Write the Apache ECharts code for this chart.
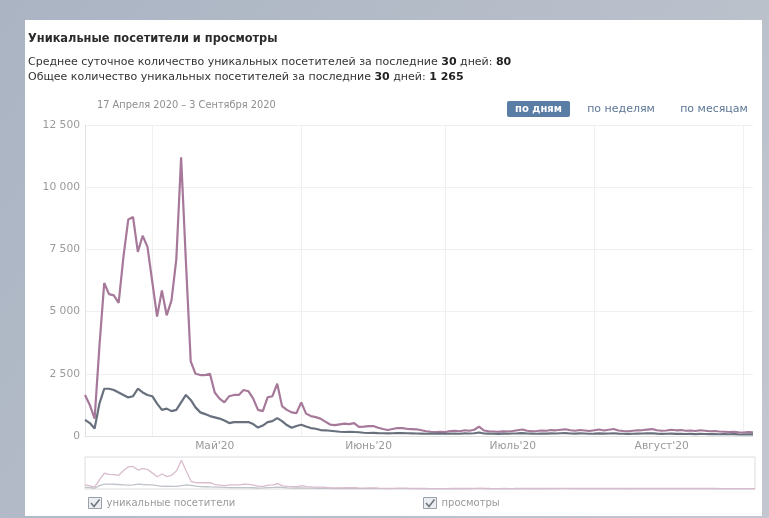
<!DOCTYPE html>
<html><head><meta charset="utf-8">
<script src="https://cdn.jsdelivr.net/npm/echarts@6/dist/echarts.min.js"></script>
<style>html,body{margin:0;padding:0;width:769px;height:518px;overflow:hidden;background:#b4bcc8}#c{width:769px;height:518px}</style>
</head><body><div id="c"></div><script>
// ---- data ----
const startDate = '2020-04-17';
const dayCount = 140;
const views = [
 1650,1250,700,3600,6150,5700,5650,5350,7200,8700,
 8800,7400,8050,7600,6200,4800,5850,4850,5450,7100,
 11200,7000,3000,2500,2450,2450,2500,1750,1500,1350,
 1600,1650,1650,1850,1800,1500,1050,1000,1550,1600,
 2100,1200,1050,950,920,1350,900,800,760,700,
 580,460,440,470,500,480,520,370,380,400,
 400,330,280,240,280,320,320,290,280,270,
 230,190,170,160,170,160,200,210,190,230,
 210,250,380,220,190,180,170,190,180,200,
 230,260,210,190,200,220,210,240,230,250,
 270,230,210,240,220,200,230,260,220,250,
 280,220,200,190,210,230,240,260,280,230,
 210,220,250,230,240,210,220,200,230,210,
 190,200,180,170,160,170,150,140,160,150
];
const visitors = [
 650,520,300,1300,1900,1900,1850,1750,1650,1550,
 1600,1900,1750,1650,1600,1300,1050,1100,1000,1050,
 1350,1650,1450,1150,950,880,800,750,700,620,
 520,560,560,560,560,480,340,420,560,600,
 720,600,440,330,400,450,380,320,290,240,
 230,210,190,170,160,165,160,150,130,120,
 125,115,110,105,110,120,115,110,105,100,
 95,90,95,100,95,90,100,95,90,105,
 100,110,140,100,95,90,85,95,90,100,
 105,115,100,95,90,100,95,105,100,110,
 115,100,95,105,100,90,95,105,95,100,
 110,95,90,85,90,95,100,105,110,95,
 85,90,95,85,90,80,85,75,85,80,
 75,80,70,75,70,75,65,60,70,65
];
const yTickLabels = ['0','2 500','5 000','7 500','10 000','12 500'];
const monthLabels = {'05':"Май'20",'06':"Июнь'20",'07':"Июль'20",'08':"Август'20"};
const labelDates = ['2020-05-14','2020-06-15','2020-07-15','2020-08-15'];
const seriesNames = ['уникальные посетители','просмотры'];

// category dates
const dates = [];
(function(){
  const d0 = new Date(startDate + 'T00:00:00Z');
  for (let i = 0; i < dayCount; i++) {
    const d = new Date(d0.getTime() + i * 86400000);
    dates.push(d.toISOString().slice(0,10));
  }
})();

const FONT = 'DejaVu Sans';
const chart = echarts.init(document.getElementById('c'), null, {renderer:'canvas'});
const option = {
  animation: false,
  textStyle: {fontFamily: FONT},
  graphic: [
    {type:'rect', z:-10, shape:{x:0,y:0,width:769,height:518},
     style:{fill:new echarts.graphic.LinearGradient(0,0,1,1,[{offset:0,color:'#aab4c3'},{offset:1,color:'#c3c7cf'}])}},
    {type:'rect', z:-9, shape:{x:25,y:20,width:737,height:496}, style:{fill:'#ffffff'}},
    {type:'text', left:28, top:34, style:{text:'Уникальные посетители и просмотры', font:'bold 11.4px "DejaVu Sans"', fill:'#2b2b2b'}},
    {type:'text', left:28, top:57, style:{text:'Среднее суточное количество уникальных посетителей за последние {b|30} дней: {b|80}',
      font:'11px "DejaVu Sans"', fill:'#333', rich:{b:{fontWeight:'bold', fontSize:11, fontFamily:FONT, fill:'#222'}}}},
    {type:'text', left:28, top:72, style:{text:'Общее количество уникальных посетителей за последние {b|30} дней: {b|1 265}',
      font:'11px "DejaVu Sans"', fill:'#333', rich:{b:{fontWeight:'bold', fontSize:11, fontFamily:FONT, fill:'#222'}}}},
    {type:'text', left:97, top:100, style:{text:'17 Апреля 2020 – 3 Сентября 2020', font:'9.8px "DejaVu Sans"', fill:'#8e8e8e'}},
    {type:'rect', shape:{x:507,y:101,width:63,height:16,r:2}, style:{fill:'#5a7da6'}},
    {type:'text', x:538.5, y:109, style:{text:'по дням', font:'bold 10px "DejaVu Sans"', fill:'#ffffff', align:'center', verticalAlign:'middle'}},
    {type:'text', x:621, y:109, style:{text:'по неделям', font:'11px "DejaVu Sans"', fill:'#5d7696', align:'center', verticalAlign:'middle'}},
    {type:'text', x:714, y:109, style:{text:'по месяцам', font:'11px "DejaVu Sans"', fill:'#5d7696', align:'center', verticalAlign:'middle'}},
    {type:'polyline', z:100, shape:{points:[[91,503],[94,506.5],[99.5,499.5]]}, style:{stroke:'#6f7680', lineWidth:1.6, fill:null}},
    {type:'polyline', z:100, shape:{points:[[426,503],[429,506.5],[434.5,499.5]]}, style:{stroke:'#6f7680', lineWidth:1.6, fill:null}}
  ],
  legend: [
    {left:88, top:497, padding:0, itemWidth:13, itemHeight:11, itemGap:5, icon:'rect',
     data:[{name:seriesNames[0], itemStyle:{color:'#eceef1', borderColor:'#9aa1aa', borderWidth:1}}],
     textStyle:{color:'#9a9a9a', fontSize:10, fontFamily:FONT}},
    {left:423, top:497, padding:0, itemWidth:13, itemHeight:11, itemGap:5, icon:'rect',
     data:[{name:seriesNames[1], itemStyle:{color:'#eceef1', borderColor:'#9aa1aa', borderWidth:1}}],
     textStyle:{color:'#9a9a9a', fontSize:10, fontFamily:FONT}}
  ],
  grid: [
    {left:85, top:125, width:668, height:311, containLabel:false},
    {left:85, top:457, width:670, height:32, show:true, borderColor:'#dcdcdc', borderWidth:1, backgroundColor:'#fff'}
  ],
  xAxis: [
    {type:'category', gridIndex:0, data:dates, boundaryGap:false,
     axisLine:{show:true, lineStyle:{color:'#e2e2e2'}}, axisTick:{show:false},
     axisLabel:{color:'#9a9a9a', fontSize:10.7, fontFamily:FONT, margin:5,
       interval:function(i, v){return labelDates.indexOf(v) >= 0;},
       formatter:function(v){return monthLabels[v.slice(5,7)] || '';}},
     splitLine:{show:true, lineStyle:{color:'#efefef'}, interval:function(i, v){return v.slice(8,10)==='01';}}},
    {type:'category', gridIndex:1, data:dates, boundaryGap:false,
     axisLine:{show:false}, axisTick:{show:false}, axisLabel:{show:false}, splitLine:{show:false}}
  ],
  yAxis: [
    {type:'value', gridIndex:0, min:0, max:12500, interval:2500,
     axisLine:{show:true, lineStyle:{color:'#e2e2e2'}}, axisTick:{show:false},
     axisLabel:{color:'#9a9a9a', fontSize:10.7, fontFamily:FONT, margin:5,
       formatter:function(v){return yTickLabels[Math.round(v/2500)];}},
     splitLine:{lineStyle:{color:'#f0f0f0'}}},
    {type:'value', gridIndex:1, min:0, max:12500, show:false, splitLine:{show:false}}
  ],
  series: [
    {name:seriesNames[0], type:'line', xAxisIndex:0, yAxisIndex:0, data:visitors, symbol:'none',
     lineStyle:{color:'#68707e', width:2.2}, itemStyle:{color:'#68707e'}, z:3},
    {name:seriesNames[1], type:'line', xAxisIndex:0, yAxisIndex:0, data:views, symbol:'none',
     lineStyle:{color:'#a6789a', width:2.2}, itemStyle:{color:'#a6789a'}, z:2},
    {name:seriesNames[0], type:'line', xAxisIndex:1, yAxisIndex:1, data:visitors, symbol:'none',
     lineStyle:{color:'#bfc3ca', width:1.3}, itemStyle:{color:'#bfc3ca'}},
    {name:seriesNames[1], type:'line', xAxisIndex:1, yAxisIndex:1, data:views, symbol:'none',
     lineStyle:{color:'#d9bccd', width:1.3}, itemStyle:{color:'#d9bccd'}}
  ]
};
chart.setOption(option);
</script></body></html>
